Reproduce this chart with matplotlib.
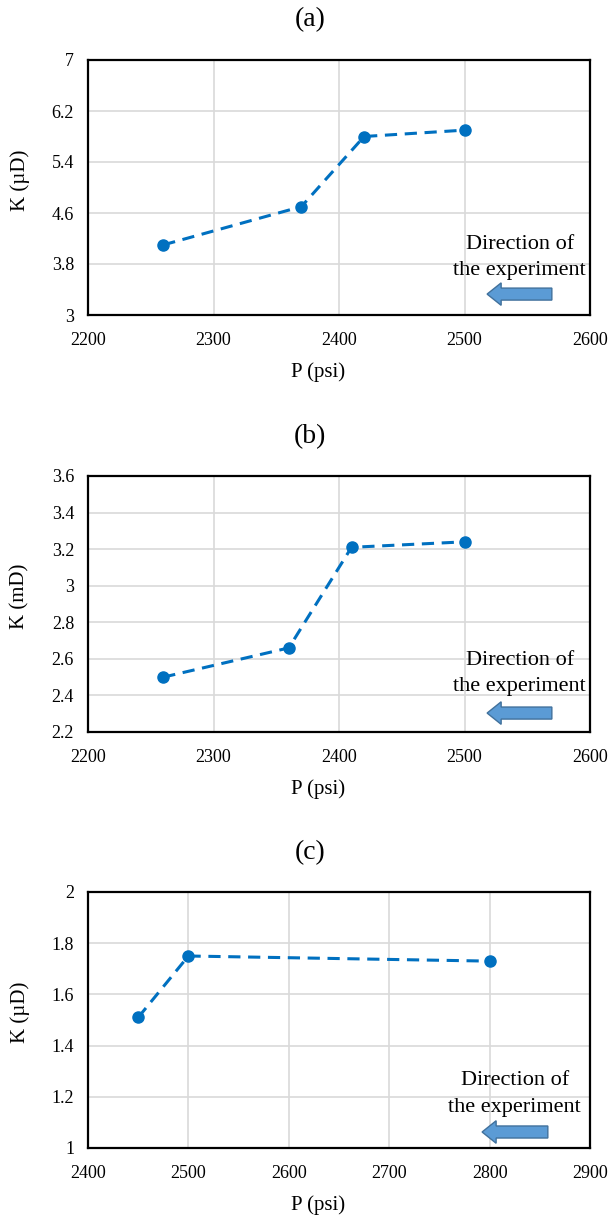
import matplotlib
matplotlib.use("Agg")
import matplotlib.pyplot as plt
from matplotlib.patches import FancyArrow

plt.rcParams['font.family'] = ['Liberation Serif', 'DejaVu Serif']

# Data
p_a = [2260, 2370, 2420, 2500]
k_a = [4.1, 4.7, 5.8, 5.9]
p_b = [2260, 2360, 2410, 2500]
k_b = [2.5, 2.66, 3.21, 3.24]
p_c = [2450, 2500, 2800]
k_c = [1.51, 1.75, 1.73]

xticks_ab = [2200, 2300, 2400, 2500, 2600]
xticks_c = [2400, 2500, 2600, 2700, 2800, 2900]
yticks_a = [3, 3.8, 4.6, 5.4, 6.2, 7]
yticks_b = [2.2, 2.4, 2.6, 2.8, 3.0, 3.2, 3.4, 3.6]
yticks_c = [1.0, 1.2, 1.4, 1.6, 1.8, 2.0]

titles = ["(a)", "(b)", "(c)"]
ylabels = ["K (µD)", "K (mD)", "K (µD)"]

W, H = 608, 1216
fig = plt.figure(figsize=(W / 100, H / 100), dpi=100)

line_color = "#0070C0"

panels = [
    dict(p=p_a, k=k_a, xt=xticks_ab, yt=yticks_a, top=60, bot=315, title_y=20,
         txt=(0.86, 0.278, 0.176), arr=(0.924, 0.795, 0.082)),
    dict(p=p_b, k=k_b, xt=xticks_ab, yt=yticks_b, top=476, bot=732, title_y=437,
         txt=(0.86, 0.28, 0.176), arr=(0.924, 0.795, 0.074)),
    dict(p=p_c, k=k_c, xt=xticks_c, yt=yticks_c, top=892, bot=1148, title_y=853,
         txt=(0.85, 0.265, 0.16), arr=(0.916, 0.785, 0.0625)),
]

left_px, right_px = 88, 590
aw = right_px - left_px

for i, pn in enumerate(panels):
    ah = pn['bot'] - pn['top']
    ax = fig.add_axes([left_px / W, 1 - pn['bot'] / H, aw / W, ah / H])
    ax.plot(pn['p'], pn['k'], linestyle=(0, (4, 2.5)), color=line_color, lw=2.2,
            marker='o', ms=8, zorder=3)
    ax.set_xlim(pn['xt'][0], pn['xt'][-1])
    ax.set_ylim(pn['yt'][0], pn['yt'][-1])
    ax.set_xticks(pn['xt'])
    ax.set_yticks(pn['yt'])
    ax.set_yticklabels(['%g' % v for v in pn['yt']])
    ax.tick_params(length=0, labelsize=13)
    ax.tick_params(axis='y', pad=10)
    ax.tick_params(axis='x', pad=12)
    ax.grid(True, color='#D9D9D9', lw=1.2)
    ax.set_axisbelow(True)
    for s in ax.spines.values():
        s.set_linewidth(1.6)
        s.set_color('black')
    ax.set_xlabel("P (psi)", fontsize=15, va='center')
    ax.xaxis.set_label_coords((318 - left_px) / aw, -57 / ah)
    ax.set_ylabel(ylabels[i], fontsize=15, va='center')
    ax.yaxis.set_label_coords(-(left_px - 20) / aw, 0.53)
    fig.text(310 / W, 1 - pn['title_y'] / H, titles[i],
             ha='center', va='center', fontsize=20)
    tx, ty1, ty2 = pn['txt']
    ax.text(tx, ty1, "Direction of", transform=ax.transAxes, ha='center', va='center',
            fontsize=16)
    ax.text(tx, ty2, "the experiment", transform=ax.transAxes, ha='center', va='center',
            fontsize=16)
    ax0, ax1, ay = pn['arr']
    arrow = FancyArrow(ax0, ay, ax1 - ax0, 0, width=0.047, head_width=0.088,
                       head_length=0.028, length_includes_head=True,
                       transform=ax.transAxes, facecolor='#5B9BD5',
                       edgecolor='#41719C', lw=1, zorder=4)
    ax.add_patch(arrow)

fig.savefig("out.png", dpi=100)
